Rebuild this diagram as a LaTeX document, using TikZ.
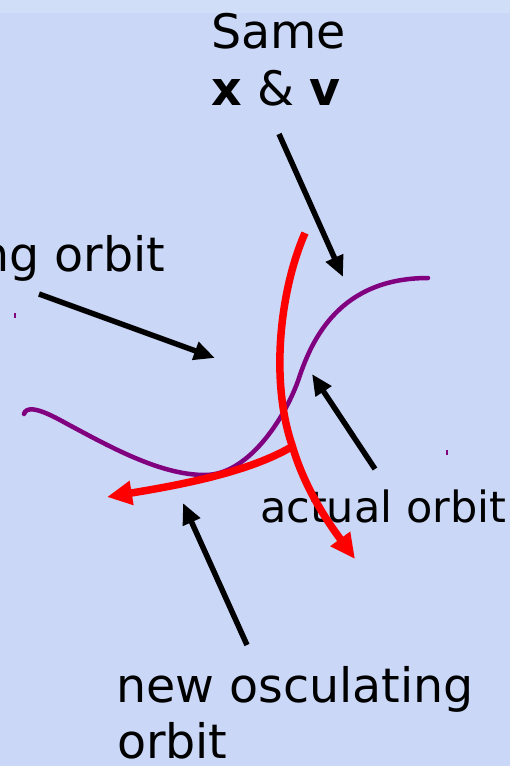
\documentclass[tikz,border=0pt]{standalone}
\usepackage{fontspec}
\setmainfont{DejaVu Sans}
\usetikzlibrary{arrows.meta}
\definecolor{bgblue}{RGB}{202,215,246}
\definecolor{bgtop}{RGB}{208,222,247}
\definecolor{orbred}{RGB}{255,0,0}
\definecolor{orbpurple}{RGB}{128,0,128}
\begin{document}
\begin{tikzpicture}[x=1pt,y=-1pt,
  lbl/.style={inner sep=0pt, outer sep=0pt, font=\fontsize{47.5}{56}\selectfont},
  lblsmall/.style={inner sep=0pt, outer sep=0pt, font=\fontsize{43}{52}\selectfont},
  pointer/.style={line width=5.5pt, -{Triangle[length=21pt,width=18pt]}},
  redorbit/.style={orbred, line width=7.5pt, -{Triangle[length=25pt,width=23pt]}},
  purpleorbit/.style={orbpurple, line width=4.5pt, line cap=round}]
\useasboundingbox (0,0) rectangle (510,766);
\fill[bgblue] (0,0) rectangle (510,766);
\fill[bgtop] (0,0) rectangle (510,13);
\clip (0,0) rectangle (510,766);

% labels
\node[lbl, anchor=base] (same) at (278.5,48) {Same};
\node[lbl, anchor=base] (xv) at (276,105) {\textbf{x} \& \textbf{v}};
\node[lbl, anchor=base east] (osc) at (165,271) {osculating orbit};
\node[lblsmall, anchor=base west] (actual) at (260,522) {actual orbit};
\node[lbl, anchor=base west] (new) at (116,702) {new osculating};
\node[lbl, anchor=base west] (neworbit) at (117,758) {orbit};

% pointer coordinates
\coordinate (s1) at (279,134); \coordinate (t1) at (343,277);
\coordinate (s2) at (39,294);  \coordinate (t2) at (215,358);
\coordinate (s3) at (375,469); \coordinate (t3) at (312,374);
\coordinate (s4) at (247,645); \coordinate (t4) at (183,503);

% purple actual orbit
\coordinate (p0) at (24,414);
\coordinate (p4) at (428,278);
\draw[purpleorbit] (p0) .. controls (26,407) and (36,407) .. (60,420)
  .. controls (110,447) and (160,475) .. (205,475)
  .. controls (250,475) and (287,414) .. (299,378)
  .. controls (312,339) and (340,278) .. (p4);

% red orbits
\coordinate (r0) at (305,233);
\coordinate (rb) at (292,445);
\coordinate (r1) at (355,559);
\coordinate (b0) at (293,446);
\coordinate (b1) at (107,497);
\draw[redorbit] (r0) .. controls (280,290) and (270,380) .. (rb)
  .. controls (305,490) and (330,525) .. (r1);
\draw[redorbit] (b0) .. controls (250,472) and (180,485) .. (b1);

% small specks
\draw[orbpurple, line width=1.2pt] (15,313) -- (15,318);
\draw[orbpurple, line width=1.2pt] (447,450) -- (447,455);

% black pointers
\draw[pointer] (s1) -- (t1);
\draw[pointer] (s2) -- (t2);
\draw[pointer] (s3) -- (t3);
\draw[pointer] (s4) -- (t4);
\end{tikzpicture}
\end{document}
